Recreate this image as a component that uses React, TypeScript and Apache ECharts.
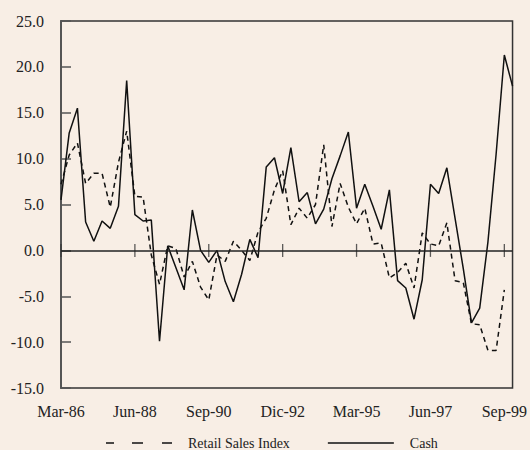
import { useEffect, useRef } from "react";
import * as echarts from "echarts";

const years = ["86", "87", "88", "89", "90", "91", "92", "93", "94", "95", "96", "97", "98", "99"];
const quarters = ["Mar", "Jun", "Sep", "Dic"];
const categories = years.flatMap((y) => quarters.map((q) => `${q}-${y}`));

const tickLabels = ["Mar-86", "Jun-88", "Sep-90", "Dic-92", "Mar-95", "Jun-97", "Sep-99"];

const cash = [
  5.5, 12.8, 15.5, 3.1, 1.0, 3.2, 2.4, 4.8, 18.5, 3.9,
  3.2, 3.3, -9.9, 0.5, -1.9, -4.3, 4.4, 0.0, -1.3, 0.0,
  -3.4, -5.6, -2.6, 1.2, -0.8, 9.1, 10.1, 6.2, 11.2, 5.3,
  6.3, 2.9, 4.5, 7.8, 10.3, 12.9, 4.6, 7.2, 4.8, 2.3,
  6.6, -3.3, -4.1, -7.5, -3.2, 7.2, 6.2, 9.0, 3.5, -2.0,
  -7.9, -6.3, 0.9, 10.5, 21.3, 17.9,
];

const retailSales = [
  7.2, 10.4, 11.7, 7.3, 8.4, 8.4, 4.7, 9.6, 13.0, 5.9,
  5.8, -0.5, -3.7, 0.5, 0.2, -2.9, -1.2, -4.0, -5.4, -0.5,
  -1.2, 1.0, 0.0, -1.1, 2.0, 3.5, 6.6, 8.7, 2.8, 4.6,
  3.5, 5.0, 11.5, 2.6, 7.3, 4.7, 2.9, 4.6, 0.7, 0.8,
  -3.0, -2.4, -1.4, -4.1, 1.9, 0.7, 0.5, 3.0, -3.3, -3.5,
  -8.0, -8.1, -10.9, -10.9, -4.3, null,
];

const FONT = "'Liberation Serif', 'Times New Roman', serif";

// legend icons: plain dashes / a plain line, no symbol
const DASH_ICON = "path://M0,0H8V1.5H0Z M26,0H37V1.5H26Z M56,0H66V1.5H56Z";
const LINE_ICON = "path://M0,0H66V1.5H0Z";

const App = () => {
  const chartRef = useRef<HTMLDivElement>(null);

  useEffect(() => {
    if (!chartRef.current) return;
    const chart = echarts.init(chartRef.current, null, { renderer: "svg" });

    chart.setOption({
      animation: false,
      backgroundColor: "#F8EEE5",
      grid: {
        left: 61,
        right: 15,
        top: 21,
        bottom: 62,
        show: true,
        borderColor: "#333",
        borderWidth: 1.5,
      },
      legend: {
        left: 106,
        top: 436,
        padding: 0,
        itemWidth: 66,
        itemHeight: 14,
        itemGap: 38,
        textStyle: {
          fontFamily: FONT,
          fontSize: 14,
          color: "#222",
          padding: [0, 0, 0, 11],
        },
        data: [
          { name: "Retail Sales Index", icon: DASH_ICON, itemStyle: { color: "#111", borderWidth: 0 } },
          { name: "Cash", icon: LINE_ICON, itemStyle: { color: "#111", borderWidth: 0 } },
        ],
      },
      xAxis: {
        type: "category",
        data: categories,
        boundaryGap: false,
        axisLine: { show: false, onZero: false },
        axisTick: { show: false },
        axisLabel: {
          interval: 8,
          margin: 15,
          fontFamily: FONT,
          fontSize: 16,
          color: "#222",
        },
        splitLine: { show: false },
      },
      yAxis: {
        type: "value",
        min: -15,
        max: 25,
        interval: 5,
        axisLine: { show: true, lineStyle: { color: "#555", width: 2 } },
        axisTick: { show: true, inside: true, length: 10, lineStyle: { color: "#555", width: 1.5 } },
        axisLabel: {
          margin: 17,
          fontFamily: FONT,
          fontSize: 16,
          color: "#222",
          formatter: (v: number) => v.toFixed(1),
        },
        splitLine: { show: false },
      },
      series: [
        {
          name: "Retail Sales Index",
          type: "line",
          data: retailSales,
          symbol: "none",
          lineStyle: { color: "#111", width: 1.5, type: [5, 4] },
          itemStyle: { color: "#111" },
        },
        {
          name: "Cash",
          type: "line",
          data: cash,
          symbol: "none",
          lineStyle: { color: "#111", width: 1.5 },
          itemStyle: { color: "#111" },
          markLine: {
            silent: true,
            symbol: "none",
            label: { show: false },
            lineStyle: { color: "#222", width: 1.5, type: "solid" },
            data: [{ yAxis: 0 }],
          },
        },
        {
          name: "ticks",
          type: "scatter",
          data: tickLabels.map((l) => [l, 0]),
          symbol: "rect",
          symbolSize: [1.3, 13],
          itemStyle: { color: "#333" },
          silent: true,
        },
      ],
    });

    return () => {
      chart.dispose();
    };
  }, []);

  return (
    <div
      ref={chartRef}
      style={{ position: "absolute", left: 0, top: 0, width: 530, height: 450 }}
    />
  );
};

export default App;
